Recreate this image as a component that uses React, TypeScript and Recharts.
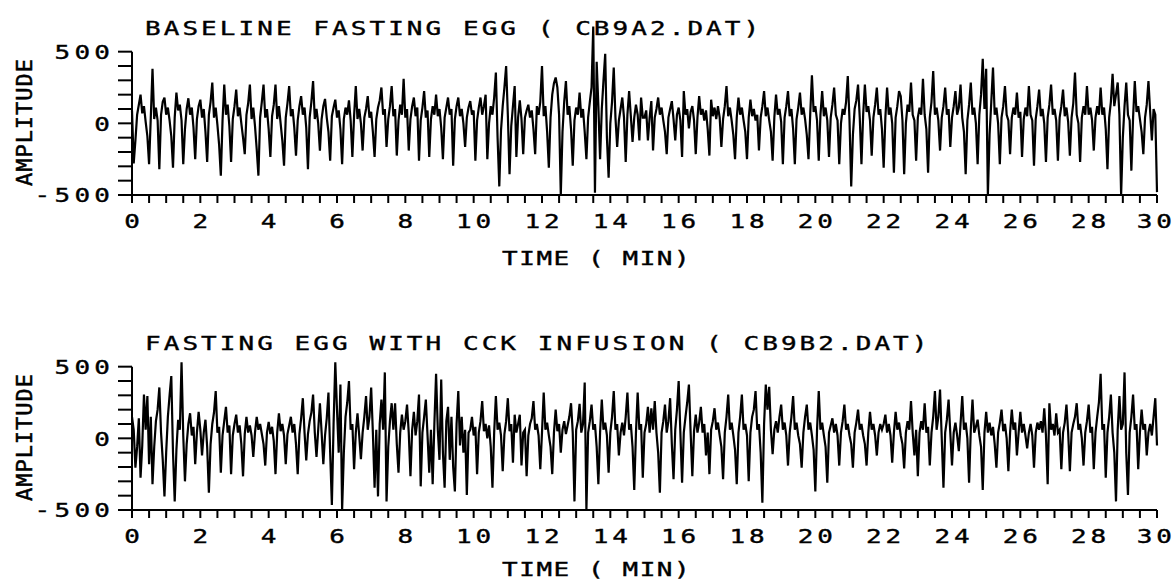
import { LineChart, Line, XAxis, YAxis, ReferenceLine } from 'recharts';

const baseline0to5 = [
  90, -280, -120, 60, 130, 200, 70, 120, 10, -90, -285, 40, 380, 30, 110, 20, -320, 60, 150, 180,
  60, 110, 20, -90, -310, 40, 215, 90, 130, 20, -285, -40, 100, 175, 60, 110, -30, -250, 30, 120,
  165, 40, 100, -60, -270, 60, 150, 285, 40, 110, -10, -150, -365, 20, 270, 60, 130, -20, -270, 30,
  120, 235, 50, 110, 0, -100, -215, 60, 140, 270, 30, 110, -20, -180, -365, 40, 150, 270, 40, 100,
  -40, -235, 50, 130, 270, 30, 120, 0, -120, -295, 40, 140, 260, 50, 100, -30, -225, 20, 120, 190,
];
const baseline5to10 = [
  60, 110, -30, -320, 40, 150, 295, 30, 100, 0, -190, 30, 120, 170, 40, -60, -260, 50, 110, 165,
  40, 90, -40, -285, 30, 110, 60, 160, 20, -235, 50, 260, 30, 100, 0, -190, 40, 100, 190, 40,
  80, -60, -235, 30, 110, 160, 250, 60, 100, -165, 30, 120, 260, 50, 100, -225, 20, 130, 60, 310,
  40, 100, -190, 30, 120, 180, 50, 110, -260, 20, 110, 225, 40, 90, -235, 30, 120, 60, 200, 50,
  100, -30, -250, 40, 110, 180, 60, 100, -295, 30, 120, 180, 50, 100, 0, -165, 40, 110, 155, 60,
];
const baseline10to15 = [
  90, -260, 20, 110, 180, 60, 120, 200, -250, 0, 120, 60, 180, 355, -100, -440, -50, 120, 250, 400,
  60, -355, -20, 120, 260, -235, 40, 160, 30, -215, 40, 90, 130, 40, 90, -40, -215, 120, 60, 150,
  400, 50, 120, -60, -310, 40, 200, 280, 320, 250, 60, -500, -60, 150, 295, 60, 120, -40, -295, 20,
  110, 60, 215, 40, 100, -60, -250, 40, 150, 250, 675, -485, 430, 120, -250, 100, 300, 485, -100, -380,
  0, 150, 390, 40, -165, 20, 100, 180, 40, -270, 60, 225, 50, -130, 40, 130, 60, -120, 180, 40,
];
const baseline15to20 = [
  40, 90, -120, 40, 155, -190, 40, 100, 180, 60, 110, 20, -60, -215, 40, 100, 155, 30, -120, 60,
  110, 20, -235, 225, 60, 100, -35, 80, 120, 20, -215, 40, 190, 60, 100, 20, 90, -40, -225, 165,
  50, 110, 30, 120, 40, -165, 30, 120, 260, 50, 110, 20, -80, -250, 40, 180, 60, 110, 20, -60,
  -250, 40, 165, 50, 100, 20, 60, -190, 40, 120, 225, 50, 110, 20, -60, -260, 40, 200, 60, 100,
  10, -285, 40, 120, 225, 50, 100, -40, -285, 30, 110, 215, 60, 110, 30, -80, -250, 60, 335, 80,
];
const baseline20to25 = [
  120, 20, -260, 60, 225, 50, 110, 20, -235, 40, 130, 250, 60, 20, -285, 0, 100, 60, 150, 330,
  20, -440, -80, 100, 160, 270, 40, -285, 60, 270, 80, 120, 20, -225, 40, 130, 250, 60, 100, -40,
  -310, 40, 250, 60, 110, 0, -345, 40, 120, 225, 190, 20, -355, 0, 130, 80, 285, 60, 20, -260,
  40, 110, 60, 310, 60, -40, -345, 40, 150, 365, 60, 110, 20, -190, 40, 120, 250, 60, 100, -165,
  40, 120, 225, 60, 110, 270, 40, -60, -355, 20, 130, 285, 60, 110, 0, -285, 60, 200, 450, 100,
];
const baseline25to30 = [
  380, -500, -80, 150, 390, 60, 110, 0, -285, 40, 120, 260, 60, 20, -215, 40, 110, 60, 215, 40,
  80, -235, 30, 110, 50, 260, 60, 20, -295, 30, 120, 235, 50, 100, 0, -270, 40, 130, 270, 60,
  100, 20, -260, 40, 120, 235, 50, 110, 10, -225, 40, 140, 355, 60, 0, -270, 40, 120, 60, 260,
  60, 110, 20, -190, 40, 120, 60, 250, 60, 110, -40, -320, 40, 150, 345, 120, 200, 285, 60, -500,
  -100, 120, 285, 60, 20, -330, 40, 295, 80, 120, 30, -60, -215, 40, 130, 295, 80, -120, 100, 60,
  -480,
];

const cck0to5 = [
  150, 60, -205, -60, 140, -275, -50, 305, 60, 295, -180, 150, -320, -60, 120, 200, 355, 40, -150, -405,
  -100, 150, 300, 435, -100, -440, -80, 130, 60, 530, 20, -300, -40, 100, 175, 20, 80, -180, 40, 185,
  60, -120, 40, 130, -60, -380, -40, 100, 180, 330, 40, 80, -240, 20, 120, 220, 40, 90, -250, 20,
  100, 165, 40, 90, -40, -265, 30, 150, 40, 90, 20, -130, 40, 150, 60, 100, 30, -40, -190, 40,
  115, 30, 80, -20, -250, 40, 175, 50, 100, 20, -180, 30, 90, 150, 40, 100, -40, -250, 30, 140,
];
const cck5to10 = [
  280, 40, -155, 30, 120, 180, 305, 40, -130, 60, 245, 40, -180, 20, 140, 320, -100, -465, 100, 530,
  200, -100, 375, -500, -100, 150, 250, 400, 60, 100, -215, 40, 175, 20, -145, 40, 150, 295, 60, 150,
  355, 40, -345, 60, -405, 100, 270, 60, 460, -440, -60, 120, 245, 60, 245, -40, -240, 40, 165, 60,
  120, 235, 40, -265, 60, 185, 20, 120, 305, -335, 40, 150, 270, 20, -240, 60, -320, 100, 450, 60,
  -150, 410, -100, -345, 120, 220, -150, 150, -200, -370, 100, 330, -50, 150, -100, 60, -395, 40, 60, 150,
];
const cck10to15 = [
  20, 80, -250, 40, 120, 260, 50, 100, 0, 90, -60, -345, 40, 295, 60, 110, 20, -230, 30, 120,
  280, 50, 100, -170, 165, 40, 100, 165, -190, 40, 60, -265, 20, 100, 140, 260, 60, 100, 20, -215,
  40, 320, 60, 110, 20, -60, -250, 40, 200, 50, 100, -100, 60, 120, 30, 90, 150, 245, 40, -440,
  60, 120, 240, 40, 100, 390, -500, 40, 120, 235, 60, 100, -60, -320, 40, 270, 60, 110, 20, -240,
  40, 150, 330, 60, 100, -120, 40, 110, 20, 150, 320, 60, 100, -60, -360, 40, 320, 60, 100, -275,
];
const cck15to20 = [
  40, 100, 220, 40, 210, 60, 260, 40, -100, -380, 40, 120, 235, 40, 120, 280, -40, -285, 60, 200,
  400, 40, -310, 40, 150, 250, 375, 40, -265, 50, 165, 40, 110, 220, 40, 100, -120, 40, -250, 60,
  120, 210, 60, 110, 20, -60, -285, 40, 150, 305, 60, 110, 20, -80, -320, 40, 150, 305, 60, 100,
  20, -300, 40, 150, 200, 330, 60, 100, -100, -450, 100, 375, 200, 360, 60, -110, 60, 120, 40, 150,
  235, 60, 110, 20, -190, 40, 150, 295, 60, 110, 20, -40, -205, 40, 150, 235, 60, 110, 20, -80,
];
const cck20to25 = [
  -370, 60, 330, 60, 110, 20, -60, -310, 40, 90, 140, 40, 100, 20, -190, 40, 120, 235, 60, 100,
  20, -40, -205, 40, 110, 200, 60, 100, 20, -40, -190, 40, 185, 60, 100, 20, -120, 40, 100, 60,
  100, 165, 40, 100, 20, -170, 40, 185, 60, 110, 20, -40, -210, 40, 120, 60, 260, 40, -120, 60,
  -265, 40, 120, 60, 245, 40, 80, -190, 40, 150, 330, 60, 150, 340, 0, -345, 40, 130, 270, 40,
  -190, 40, 110, 20, -90, 100, 295, 60, 110, 0, -310, 60, 270, 40, 80, 130, 20, -60, -360, 40,
];
const cck25to30 = [
  185, 40, 110, 20, 80, -40, -205, 40, 110, 200, 50, 100, 0, -230, 40, 200, 60, 110, -120, 40,
  185, 40, 100, 20, -70, 40, 100, 20, -205, 40, 110, 60, 120, 40, 210, 20, -320, 245, 60, 100,
  20, 175, 40, 60, -215, 40, 110, 235, 40, -230, 40, 100, 150, 245, 60, 100, 0, -190, 40, 120,
  235, 40, 80, -215, 40, 150, 250, 450, 60, 100, -275, 40, 150, 305, 40, -100, -440, 60, 295, 60,
  100, 460, -100, -395, 40, 150, 305, 60, 100, -215, 40, 200, 60, 100, -120, 40, 100, 20, 150, 280,
  -50,
];

const xTicks = [
  0, 0.5, 1, 1.5, 2, 2.5, 3, 3.5, 4, 4.5, 5, 5.5, 6, 6.5, 7, 7.5, 8, 8.5, 9, 9.5,
  10, 10.5, 11, 11.5, 12, 12.5, 13, 13.5, 14, 14.5, 15, 15.5, 16, 16.5, 17, 17.5, 18, 18.5, 19, 19.5,
  20, 20.5, 21, 21.5, 22, 22.5, 23, 23.5, 24, 24.5, 25, 25.5, 26, 26.5, 27, 27.5, 28, 28.5, 29, 29.5, 30,
];
const yTicks = [-500, -400, -300, -200, -100, 0, 100, 200, 300, 400, 500];

const SAMPLES_PER_MIN = 20;
const FONT = '"DejaVu Sans Mono", monospace';
const WIDE = 1.3; // plotter glyphs are wider than DejaVu's

const toRows = (vals: number[]) => vals.map((v, i) => ({ t: i / SAMPLES_PER_MIN, v }));

const baselineData = toRows([
  ...baseline0to5, ...baseline5to10, ...baseline10to15,
  ...baseline15to20, ...baseline20to25, ...baseline25to30,
]);
const cckData = toRows([
  ...cck0to5, ...cck5to10, ...cck10to15,
  ...cck15to20, ...cck20to25, ...cck25to30,
]);

// stretched text; x is given in page pixels
const PlotText = ({ x, y, anchor = 'start', ls = 0, children }: any) => {
  const dx = anchor === 'end' ? ls : anchor === 'middle' ? ls / 2 : 0;
  return (
    <text
      transform={`scale(${WIDE} 1)`}
      x={x / WIDE}
      y={y}
      dx={dx}
      textAnchor={anchor}
      letterSpacing={ls}
      fontFamily={FONT}
      fontSize={20}
      fill="#000"
      stroke="#000"
      strokeWidth={0.4}
    >
      {children}
    </text>
  );
};

const XTick = ({ x, y, payload }: any) => {
  if (payload.value % 2 !== 0) return <g />;
  // last label hugs the page edge, keep it inside
  if (payload.value === 30) return <PlotText x={x + 15} y={y + 14.6} anchor="end" ls={3}>{payload.value}</PlotText>;
  return <PlotText x={x} y={y + 14.6} anchor="middle" ls={3}>{payload.value}</PlotText>;
};

const YTick = ({ x, y, payload }: any) => {
  if (payload.value % 500 !== 0) return <g />;
  return <PlotText x={x} y={y + 7.3} anchor="end" ls={3.3}>{payload.value}</PlotText>;
};

const EggChart = ({ data, top }: { data: { t: number; v: number }[]; top: number }) => (
  <div style={{ position: 'absolute', left: 0, top }}>
    <LineChart width={1176} height={260} data={data} margin={{ top: 23, right: 19, bottom: 25, left: 0 }}>
      <XAxis
        dataKey="t"
        type="number"
        domain={[0, 30]}
        ticks={xTicks}
        interval={0}
        height={40}
        tickSize={8}
        tickMargin={10}
        axisLine={{ stroke: '#000', strokeWidth: 2 }}
        tickLine={{ stroke: '#000', strokeWidth: 2 }}
        tick={XTick}
      />
      <YAxis
        type="number"
        domain={[-500, 700]}
        ticks={yTicks}
        interval={0}
        width={132}
        tickSize={14}
        tickMargin={8}
        axisLine={false}
        tickLine={{ stroke: '#000', strokeWidth: 2 }}
        tick={YTick}
      />
      <ReferenceLine segment={[{ x: 0, y: -500 }, { x: 0, y: 500 }]} stroke="#000" strokeWidth={2} />
      <Line dataKey="v" type="linear" stroke="#000" strokeWidth={2.2} dot={false} isAnimationActive={false} />
    </LineChart>
  </div>
);

export default function App() {
  const amp = { fontFamily: FONT, fontSize: 22, fill: '#000', stroke: '#000', strokeWidth: 0.5 };
  return (
    <div style={{ position: 'absolute', left: 0, top: 0, width: 1176, height: 581, background: '#fff' }}>
      <EggChart data={baselineData} top={0} />
      <EggChart data={cckData} top={315} />
      <svg width={1176} height={581} style={{ position: 'absolute', left: 0, top: 0, pointerEvents: 'none' }}>
        <PlotText x={145} y={35} ls={2.35}>BASELINE FASTING EGG ( CB9A2.DAT)</PlotText>
        <PlotText x={502} y={265} ls={1.2}>TIME ( MIN)</PlotText>
        <text x={32} y={122} textAnchor="middle" letterSpacing={1} transform="rotate(-90 32 122)" {...amp}>AMPLITUDE</text>

        <PlotText x={145} y={350} ls={2.35}>FASTING EGG WITH CCK INFUSION ( CB9B2.DAT)</PlotText>
        <PlotText x={502} y={576} ls={1.2}>TIME ( MIN)</PlotText>
        <text x={32} y={437} textAnchor="middle" letterSpacing={1} transform="rotate(-90 32 437)" {...amp}>AMPLITUDE</text>
      </svg>
    </div>
  );
}
